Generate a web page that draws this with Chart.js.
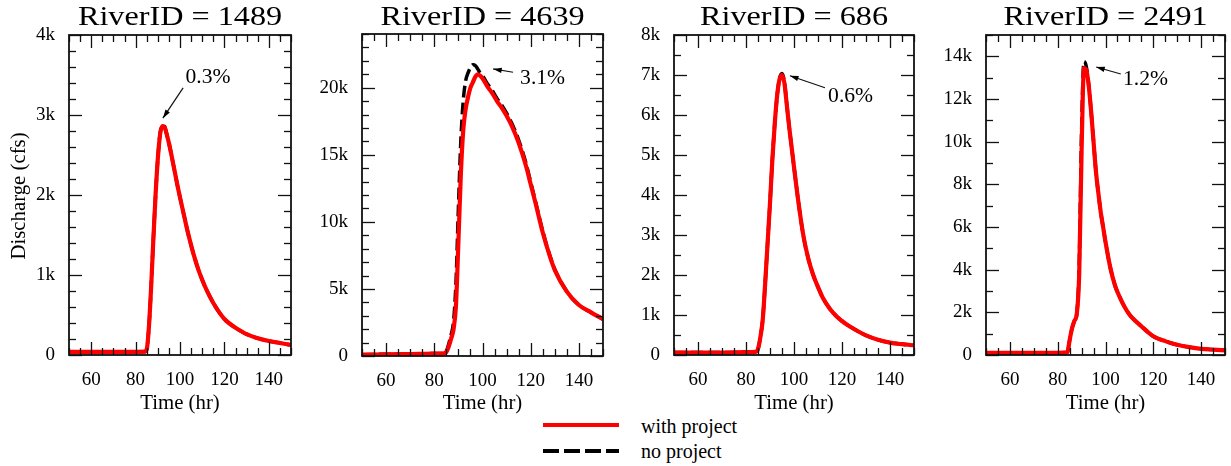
<!DOCTYPE html>
<html>
<head>
<meta charset="utf-8">
<script src="https://cdn.jsdelivr.net/npm/chart.js@4.4.1/dist/chart.umd.min.js"></script>
<style>
  body { margin: 0; background: #fff; width: 1231px; height: 466px; position: relative; overflow: hidden; font-family: 'Liberation Serif', serif; }
  canvas { position: absolute; top: 0; }
  .leg-line { position: absolute; height: 4px; width: 76px; left: 543px; }
  .leg-text { position: absolute; left: 641px; font-size: 20px; line-height: 20px; color: #000; }
</style>
</head>
<body>
<canvas id="c1" width="300" height="415" style="left:0px"></canvas>
<canvas id="c2" width="307" height="415" style="left:305px"></canvas>
<canvas id="c3" width="300" height="415" style="left:620px"></canvas>
<canvas id="c4" width="301" height="415" style="left:930px"></canvas>

<div class="leg-line" style="top:423px;background:#ff0000"></div>
<div class="leg-text" style="top:416px">with project</div>
<div class="leg-line" style="top:449px;background:repeating-linear-gradient(90deg,#000 0 16px,transparent 16px 21px)"></div>
<div class="leg-text" style="top:441px">no project</div>

<script>
// time axis (hr), shared by every panel
const hours = [50, 60, 70, 80, 84, 85, 86, 87, 88, 89, 90, 91, 92, 93, 94, 95, 96, 97, 98, 99, 100,
  102, 104, 106, 108, 110, 112, 115, 118, 120, 122, 125, 128, 130, 135, 140, 145, 150];

// discharge (cfs)
const with1489 = [40, 40, 40, 40, 42, 70, 350, 850, 1450, 2000, 2450, 2750, 2860, 2850, 2760, 2650, 2520, 2380, 2240, 2100, 1970,
  1720, 1480, 1270, 1090, 940, 810, 650, 520, 450, 400, 340, 290, 260, 210, 175, 150, 125];
const no1489 = [40, 40, 40, 40, 42, 70, 350, 850, 1450, 2000, 2450, 2760, 2870, 2860, 2765, 2650, 2520, 2380, 2240, 2100, 1970,
  1720, 1480, 1270, 1090, 940, 810, 650, 520, 450, 400, 340, 290, 260, 210, 175, 150, 125];

const with4639 = [100, 130, 150, 180, 200, 300, 700, 1300, 2000, 3800, 8500, 13500, 16800, 18400, 19300, 20000, 20400, 20800, 21000, 20900, 20700,
  20100, 19600, 19000, 18500, 17900, 17200, 15900, 14200, 12800, 11400, 9200, 7400, 6400, 4800, 3800, 3250, 2750];
const no4639 = [100, 130, 150, 180, 200, 350, 900, 1600, 2600, 5500, 11000, 16000, 19000, 20500, 21100, 21500, 21700, 21650, 21400, 21100, 20900,
  20300, 19800, 19200, 18700, 18100, 17400, 16100, 14400, 12950, 11500, 9300, 7450, 6450, 4800, 3800, 3250, 2750];

const with686 = [60, 60, 60, 70, 80, 150, 450, 900, 1800, 2800, 3800, 4900, 5800, 6500, 6900, 7000, 6800, 6250, 5700, 5200, 4700,
  3750, 2950, 2400, 2000, 1700, 1430, 1150, 950, 850, 760, 650, 550, 490, 380, 310, 270, 240];
const no686 = [60, 60, 60, 70, 80, 150, 450, 900, 1800, 2800, 3800, 4900, 5800, 6500, 6920, 7040, 6830, 6260, 5700, 5200, 4700,
  3750, 2950, 2400, 2000, 1700, 1430, 1150, 950, 850, 760, 650, 550, 490, 380, 310, 270, 240];

const with2491 = [100, 100, 100, 100, 120, 700, 1250, 1600, 1950, 3800, 9600, 13450, 13350, 12600, 11400, 10000, 8600, 7600, 6700, 6000, 5300,
  4100, 3250, 2700, 2250, 1900, 1650, 1350, 1050, 880, 770, 650, 540, 480, 370, 290, 250, 220];
const no2491 = [100, 100, 100, 100, 120, 700, 1250, 1600, 1950, 4200, 10500, 13750, 13500, 12650, 11400, 10000, 8600, 7600, 6700, 6000, 5300,
  4100, 3250, 2700, 2250, 1900, 1650, 1350, 1050, 880, 770, 650, 540, 480, 370, 290, 250, 220];

const panels = [
  { id: 'c1', left: 0, title: 'RiverID = 1489', withP: with1489, noP: no1489, yMax: 4000, yMinor: 200, yMajor: 1000,
    box: [69, 291, 35, 355], yTitle: 'Discharge (cfs)',
    note: { text: '0.3%', head: [92.3, 2960], tail: [101.4, 3340], at: [102.5, 3460] } },
  { id: 'c2', left: 305, title: 'RiverID = 4639', withP: with4639, noP: no4639, yMax: 24000, yMinor: 1000, yMajor: 5000,
    box: [362, 603, 34, 356],
    note: { text: '3.1%', head: [104.4, 21400], tail: [112.7, 21150], at: [115.6, 20700] } },
  { id: 'c3', left: 620, title: 'RiverID = 686', withP: with686, noP: no686, yMax: 8000, yMinor: 500, yMajor: 1000,
    box: [674, 914, 35, 355],
    note: { text: '0.6%', head: [98.3, 6980], tail: [112.9, 6680], at: [114.2, 6450] } },
  { id: 'c4', left: 930, title: 'RiverID = 2491', withP: with2491, noP: no2491, yMax: 15000, yMinor: 1000, yMajor: 2000,
    box: [986, 1227, 35, 355],
    note: { text: '1.2%', head: [96.1, 13500], tail: [106.4, 13170], at: [107.3, 12900] } },
];

const serif = "'Liberation Serif', 'Times New Roman', serif";

// text in the source figure is a little wider than Liberation Serif
function wideText(ctx, txt, x, y, size, sx, align) {
  ctx.save();
  ctx.font = size + 'px ' + serif;
  ctx.textAlign = align || 'center';
  ctx.textBaseline = 'middle';
  ctx.translate(x, y);
  ctx.scale(sx, 1);
  ctx.fillText(txt, 0, 0);
  ctx.restore();
}

const deco = {
  id: 'deco',
  afterDraw(chart, args, o) {
    const { ctx, chartArea: a, scales: { x, y } } = chart;
    ctx.save();
    ctx.strokeStyle = '#111';
    ctx.lineWidth = 1.3;
    const seg = (x1, y1, x2, y2) => { ctx.beginPath(); ctx.moveTo(x1, y1); ctx.lineTo(x2, y2); ctx.stroke(); };

    // inward ticks on all four sides
    x.ticks.forEach(t => {
      const px = Math.round(x.getPixelForValue(t.value)) + 0.5;
      const L = t.value % 20 === 0 ? 13 : 7;
      seg(px, a.bottom, px, a.bottom - L);
      seg(px, a.top, px, a.top + L);
    });
    y.ticks.forEach(t => {
      const py = Math.round(y.getPixelForValue(t.value)) + 0.5;
      const L = t.value % o.yMajor === 0 ? 13 : 7;
      seg(a.left, py, a.left + L, py);
      seg(a.right, py, a.right - L, py);
    });

    // frame
    ctx.lineWidth = 1.8;
    ctx.strokeRect(a.left, a.top, a.right - a.left, a.bottom - a.top);

    ctx.fillStyle = '#000';
    wideText(ctx, o.title, (a.left + a.right) / 2, 18, 28, 1.15);
    wideText(ctx, 'Time (hr)', (a.left + a.right) / 2, 404, 20, 1.04);

    if (o.yTitle) {
      ctx.save();
      ctx.translate(20, 196);
      ctx.rotate(-Math.PI / 2);
      wideText(ctx, o.yTitle, 0, 0, 20, 1.04);
      ctx.restore();
    }

    // peak annotation
    const n = o.note;
    const hx = x.getPixelForValue(n.head[0]), hy = y.getPixelForValue(n.head[1]);
    const tx = x.getPixelForValue(n.tail[0]), ty = y.getPixelForValue(n.tail[1]);
    ctx.lineWidth = 1.2;
    seg(tx, ty, hx, hy);
    const ang = Math.atan2(hy - ty, hx - tx);
    ctx.beginPath();
    ctx.moveTo(hx, hy);
    ctx.lineTo(hx - 9 * Math.cos(ang - 0.3), hy - 9 * Math.sin(ang - 0.3));
    ctx.lineTo(hx - 9 * Math.cos(ang + 0.3), hy - 9 * Math.sin(ang + 0.3));
    ctx.closePath();
    ctx.fill();
    wideText(ctx, n.text, x.getPixelForValue(n.at[0]), y.getPixelForValue(n.at[1]), 20, 1.08, 'left');
    ctx.restore();
  }
};

panels.forEach(p => {
  const cv = document.getElementById(p.id);
  const [pl, pr, pt, pb] = p.box;
  new Chart(cv, {
    type: 'line',
    data: {
      datasets: [
        {
          label: 'with project',
          data: hours.map((h, i) => ({ x: h, y: p.withP[i] })),
          borderColor: '#ff0000', borderWidth: 4.2,
          pointRadius: 0, cubicInterpolationMode: 'monotone',
        },
        {
          label: 'no project',
          data: hours.map((h, i) => ({ x: h, y: p.noP[i] })),
          borderColor: '#000000', borderWidth: 3.5, borderDash: [12, 5],
          pointRadius: 0, cubicInterpolationMode: 'monotone',
        },
      ],
    },
    options: {
      responsive: false,
      animation: false,
      layout: { padding: { left: 0, top: pt, right: cv.width - (pr - p.left), bottom: 0 } },
      plugins: {
        legend: { display: false },
        tooltip: { enabled: false },
        deco: { title: p.title, yTitle: p.yTitle, yMajor: p.yMajor, note: p.note },
      },
      scales: {
        x: {
          type: 'linear', min: 50, max: 150,
          grid: { display: false },
          border: { display: false },
          ticks: {
            stepSize: 5, autoSkip: false, maxRotation: 0, padding: 6, color: '#000',
            font: { family: serif, size: 19 },
            callback: v => (v % 20 === 0 ? String(v) : ''),
          },
          afterFit: s => { s.height = cv.height - pb; },
        },
        y: {
          min: 0, max: p.yMax,
          grid: { display: false },
          border: { display: false },
          ticks: {
            stepSize: p.yMinor, autoSkip: false, padding: 6, color: '#000',
            font: { family: serif, size: 19 },
            callback: v => (v % p.yMajor !== 0 ? '' : v === 0 ? '0' : (v / 1000) + 'k'),
          },
          afterFit: s => { s.width = pl - p.left; },
        },
      },
    },
    plugins: [deco],
  });
});
</script>
</body>
</html>
